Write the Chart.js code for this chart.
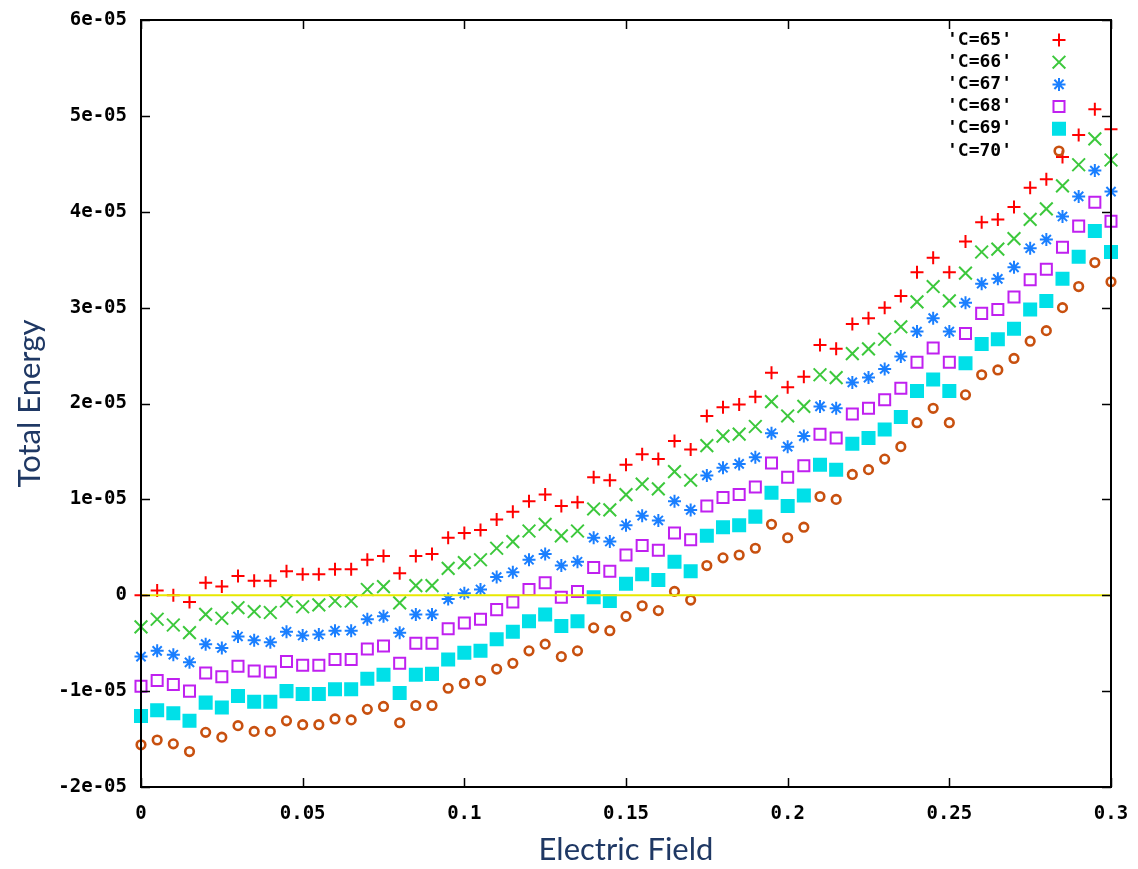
<!DOCTYPE html>
<html>
<head>
<meta charset="utf-8">
<title>Total Energy vs Electric Field</title>
<script src="https://cdn.jsdelivr.net/npm/chart.js@4.4.1/dist/chart.umd.min.js"></script>
<style>
  html, body { margin: 0; padding: 0; background: #fff; }
  #wrap { width: 1138px; height: 869px; }
</style>
</head>
<body>
<div id="wrap"><canvas id="energyChart" width="1138" height="869"></canvas></div>
<script>
// electric field values (x axis)
const fieldValues = [
  0, 0.005, 0.01, 0.015, 0.02, 0.025, 0.03, 0.035, 0.04, 0.045,
  0.05, 0.055, 0.06, 0.065, 0.07, 0.075, 0.08, 0.085, 0.09, 0.095,
  0.1, 0.105, 0.11, 0.115, 0.12, 0.125, 0.13, 0.135, 0.14, 0.145,
  0.15, 0.155, 0.16, 0.165, 0.17, 0.175, 0.18, 0.185, 0.19, 0.195,
  0.2, 0.205, 0.21, 0.215, 0.22, 0.225, 0.23, 0.235, 0.24, 0.245,
  0.25, 0.255, 0.26, 0.265, 0.27, 0.275, 0.28, 0.285, 0.29, 0.295,
  0.3
];

// total energy, in units of 1e-05
const energyC65 = [
  0.00, 0.05, 0.00, -0.07, 0.13, 0.09, 0.20, 0.15, 0.15, 0.25,
  0.22, 0.22, 0.27, 0.27, 0.37, 0.41, 0.23, 0.41, 0.43, 0.60,
  0.65, 0.68, 0.79, 0.87, 0.98, 1.05, 0.93, 0.97, 1.23, 1.20,
  1.36, 1.47, 1.42, 1.61, 1.52, 1.87, 1.96, 1.99, 2.07, 2.32,
  2.17, 2.28, 2.61, 2.57, 2.83, 2.89, 3.00, 3.12, 3.37, 3.52,
  3.37, 3.69, 3.89, 3.92, 4.05, 4.25, 4.34, 4.57, 4.80, 5.07,
  4.86
];
const energyC66 = [
  -0.33, -0.25, -0.31, -0.39, -0.20, -0.24, -0.13, -0.17, -0.18, -0.06,
  -0.12, -0.10, -0.06, -0.06, 0.06, 0.09, -0.08, 0.10, 0.10, 0.28,
  0.34, 0.37, 0.49, 0.56, 0.67, 0.74, 0.62, 0.67, 0.90, 0.89,
  1.05, 1.16, 1.11, 1.29, 1.20, 1.56, 1.66, 1.68, 1.76, 2.02,
  1.87, 1.97, 2.30, 2.27, 2.52, 2.57, 2.67, 2.80, 3.06, 3.22,
  3.07, 3.36, 3.58, 3.61, 3.72, 3.92, 4.03, 4.27, 4.49, 4.76,
  4.54
];
const energyC67 = [
  -0.64, -0.58, -0.62, -0.70, -0.51, -0.55, -0.43, -0.47, -0.49, -0.38,
  -0.42, -0.41, -0.37, -0.37, -0.25, -0.22, -0.39, -0.20, -0.20, -0.04,
  0.02, 0.06, 0.19, 0.24, 0.37, 0.43, 0.31, 0.35, 0.60, 0.56,
  0.73, 0.83, 0.78, 0.98, 0.89, 1.25, 1.33, 1.37, 1.44, 1.69,
  1.55, 1.66, 1.97, 1.95, 2.22, 2.27, 2.36, 2.49, 2.75, 2.89,
  2.75, 3.05, 3.25, 3.30, 3.42, 3.62, 3.71, 3.95, 4.16, 4.43,
  4.21
];
const energyC68 = [
  -0.95, -0.89, -0.93, -1.00, -0.81, -0.85, -0.74, -0.79, -0.80, -0.69,
  -0.73, -0.73, -0.67, -0.67, -0.56, -0.53, -0.71, -0.50, -0.50, -0.35,
  -0.29, -0.25, -0.15, -0.07, 0.06, 0.13, -0.02, 0.04, 0.29, 0.25,
  0.42, 0.52, 0.47, 0.65, 0.58, 0.93, 1.02, 1.05, 1.13, 1.38,
  1.23, 1.35, 1.68, 1.64, 1.89, 1.95, 2.04, 2.16, 2.43, 2.58,
  2.43, 2.73, 2.94, 2.98, 3.11, 3.29, 3.40, 3.63, 3.85, 4.10,
  3.90
];
const energyC69 = [
  -1.26, -1.20, -1.23, -1.31, -1.12, -1.17, -1.05, -1.11, -1.11, -1.00,
  -1.03, -1.03, -0.98, -0.98, -0.87, -0.83, -1.02, -0.83, -0.82, -0.67,
  -0.60, -0.58, -0.46, -0.38, -0.27, -0.20, -0.32, -0.27, -0.02, -0.06,
  0.12, 0.22, 0.16, 0.35, 0.25, 0.62, 0.71, 0.73, 0.82, 1.07,
  0.93, 1.04, 1.36, 1.31, 1.58, 1.64, 1.73, 1.86, 2.13, 2.25,
  2.13, 2.42, 2.62, 2.67, 2.78, 2.98, 3.07, 3.30, 3.53, 3.80,
  3.58
];
const energyC70 = [
  -1.56, -1.51, -1.55, -1.63, -1.43, -1.48, -1.36, -1.42, -1.42, -1.31,
  -1.35, -1.35, -1.29, -1.30, -1.19, -1.16, -1.33, -1.15, -1.15, -0.97,
  -0.92, -0.89, -0.77, -0.71, -0.58, -0.51, -0.64, -0.58, -0.34, -0.37,
  -0.22, -0.11, -0.16, 0.04, -0.05, 0.31, 0.39, 0.42, 0.49, 0.74,
  0.60, 0.71, 1.03, 1.00, 1.26, 1.31, 1.42, 1.55, 1.80, 1.95,
  1.80, 2.09, 2.30, 2.35, 2.47, 2.65, 2.76, 3.00, 3.22, 3.47,
  3.27
];

const seriesLabels = ["'C=65'", "'C=66'", "'C=67'", "'C=68'", "'C=69'", "'C=70'"];
const seriesValues = [energyC65, energyC66, energyC67, energyC68, energyC69, energyC70];

const xTickLabels = ['0', '0.05', '0.1', '0.15', '0.2', '0.25', '0.3'];
const yTickLabels = ['-2e-05', '-1e-05', '0', '1e-05', '2e-05', '3e-05', '4e-05', '5e-05', '6e-05'];

// gnuplot-like point types
const seriesStyles = [
  { color: '#ff0000', pointStyle: 'cross',    radius: 6.5, fill: false },
  { color: '#3cc83c', pointStyle: 'crossRot', radius: 9,   fill: false },
  { color: '#1a7fff', pointStyle: 'star',     radius: 6.5, fill: false },
  { color: '#c020f0', pointStyle: 'rect',     radius: 7.8, fill: false },
  { color: '#00e0e8', pointStyle: 'rect',     radius: 8.5, fill: true },
  { color: '#c8500f', pointStyle: 'circle',   radius: 4.3, fill: false }
];

const tickFont = { family: 'DejaVu Sans Mono', size: 19, weight: 'bold' };
const titleFont = { family: 'Lato', size: 31 };
const titleColor = '#1f3864';

const datasets = seriesValues.map((vals, i) => {
  const st = seriesStyles[i];
  return {
    type: 'scatter',
    label: seriesLabels[i],
    data: vals.map((v, k) => ({ x: fieldValues[k], y: v })),
    pointStyle: st.pointStyle,
    pointRadius: st.radius,
    pointBorderWidth: st.pointStyle === 'circle' ? 2.6 : 2,
    pointBorderColor: st.color,
    pointBackgroundColor: st.fill ? st.color : 'rgba(0,0,0,0)',
    showLine: false,
    clip: false,
    order: 6 - i
  };
});

// zero line
datasets.push({
  type: 'line',
  label: 'zero',
  data: [{ x: fieldValues[0], y: 0 }, { x: fieldValues[fieldValues.length - 1], y: 0 }],
  borderColor: '#e8e800',
  borderWidth: 2,
  pointRadius: 0,
  order: 0
});

// border box with inward ticks on all four sides
const framePlugin = {
  id: 'frame',
  afterDatasetsDraw(chart) {
    const { ctx, chartArea: a, scales } = chart;
    const tl = 9;
    ctx.save();
    ctx.strokeStyle = '#000';
    ctx.lineWidth = 1.5;
    ctx.beginPath();
    scales.x.ticks.forEach(t => {
      const px = Math.round(scales.x.getPixelForValue(t.value)) + 0.5;
      ctx.moveTo(px, a.bottom); ctx.lineTo(px, a.bottom - tl);
      ctx.moveTo(px, a.top); ctx.lineTo(px, a.top + tl);
    });
    scales.y.ticks.forEach(t => {
      const py = Math.round(scales.y.getPixelForValue(t.value)) + 0.5;
      ctx.moveTo(a.left, py); ctx.lineTo(a.left + tl, py);
      ctx.moveTo(a.right, py); ctx.lineTo(a.right - tl, py);
    });
    ctx.stroke();
    ctx.lineWidth = 2;
    ctx.strokeRect(a.left, a.top, a.right - a.left, a.bottom - a.top);
    ctx.restore();
  }
};

// key in the top right corner: label text, then the point sample
const keyPlugin = {
  id: 'key',
  afterDraw(chart) {
    const { ctx } = chart;
    const textRight = 1012, sampleX = 1059, top = 40, step = 22.2;
    ctx.save();
    ctx.font = 'bold 18px "DejaVu Sans Mono"';
    ctx.textAlign = 'right';
    ctx.textBaseline = 'middle';
    chart.data.datasets.forEach((ds, i) => {
      if (ds.type !== 'scatter') return;
      const y = top + i * step;
      ctx.fillStyle = '#000';
      ctx.fillText(ds.label, textRight, y);
      ctx.strokeStyle = ds.pointBorderColor;
      ctx.fillStyle = ds.pointBackgroundColor;
      ctx.lineWidth = ds.pointBorderWidth;
      Chart.helpers.drawPoint(ctx, {
        pointStyle: ds.pointStyle,
        radius: ds.pointRadius,
        rotation: 0,
        borderWidth: ds.pointBorderWidth
      }, sampleX, y);
    });
    ctx.restore();
  }
};

new Chart(document.getElementById('energyChart').getContext('2d'), {
  type: 'scatter',
  data: { datasets },
  options: {
    responsive: false,
    animation: false,
    events: [],
    layout: { padding: { left: 0, top: 20, right: 27, bottom: 0 } },
    plugins: { legend: { display: false }, tooltip: { enabled: false } },
    scales: {
      x: {
        type: 'linear',
        min: 0,
        max: 0.3,
        border: { display: false },
        grid: { display: false, drawTicks: false },
        ticks: {
          stepSize: 0.05,
          color: '#000',
          font: tickFont,
          padding: 16,
          maxRotation: 0,
          callback: (v, i) => xTickLabels[i]
        },
        title: {
          display: true,
          text: 'Electric Field',
          color: titleColor,
          font: titleFont,
          padding: { top: 0, bottom: 0 }
        },
        afterFit: s => { s.height = 82; s.paddingLeft = 0; s.paddingRight = 0; }
      },
      y: {
        type: 'linear',
        min: -2,
        max: 6,
        border: { display: false },
        grid: { display: false, drawTicks: false },
        ticks: {
          stepSize: 1,
          color: '#000',
          font: tickFont,
          padding: 14,
          callback: (v, i) => yTickLabels[i]
        },
        title: {
          display: true,
          text: 'Total Energy',
          color: titleColor,
          font: titleFont,
          padding: { top: 11, bottom: 0 }
        },
        afterFit: s => { s.width = 141; s.paddingTop = 0; s.paddingBottom = 0; }
      }
    }
  },
  plugins: [framePlugin, keyPlugin]
});
</script>
</body>
</html>
